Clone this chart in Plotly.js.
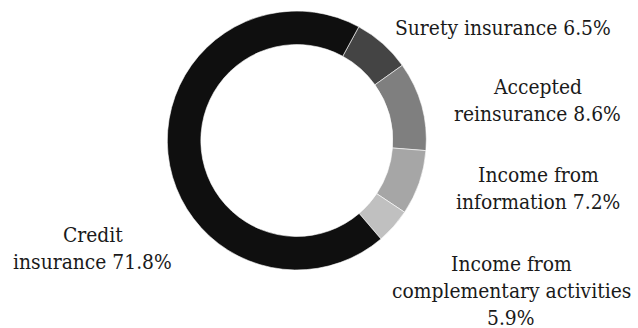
<!DOCTYPE html>
<html>
<head>
<meta charset="utf-8">
<script src="https://cdn.plot.ly/plotly-3.0.1.min.js"></script>
<style>html,body{margin:0;padding:0;background:#fff;}#chart{width:638px;height:328px;}</style>
</head>
<body>
<div id="chart"></div>
<script>
// Categories in drawing order (clockwise from the upper right)
var categories = ["Surety insurance", "Accepted reinsurance", "Income from information", "Income from complementary activities", "Credit insurance"];
// Slice shares as drawn in the picture (percent of the ring)
var sliceShares = [7.2, 11.1, 8.1, 4.4, 69.2];
// Percentages printed in the labels
var labelPercents = ["6.5%", "8.6%", "7.2%", "5.9%", "71.8%"];
// Label lines (text as printed)
var labelLines = [
  ["Surety insurance 6.5%"],
  ["Accepted", "reinsurance 8.6%"],
  ["Income from", "information 7.2%"],
  ["Income from", "complementary activities", "5.9%"],
  ["Credit", "insurance 71.8%"]
];

// Styling / layout (not data)
var sliceColors = ["#444444", "#7f7f7f", "#a6a6a6", "#c0c0c0", "#0f0f0f"];
var labelAnchorPx = [[503, 28], [537.5, 87], [538, 175], [511, 264], [92.5, 235]]; // centre x, first line centre y
var lineStepPx = 27;
var W = 638, H = 328;
var FONT = "DejaVu Serif Condensed";
var FONTSIZE = 20.8;

var annotations = [];
labelLines.forEach(function (lines, i) {
  lines.forEach(function (ln, j) {
    annotations.push({
      text: ln,
      xref: "paper", yref: "paper",
      x: labelAnchorPx[i][0] / W,
      y: 1 - (labelAnchorPx[i][1] + j * lineStepPx) / H,
      xanchor: "center", yanchor: "middle",
      showarrow: false,
      font: {family: FONT, size: FONTSIZE, color: "#1a1a1a"}
    });
  });
});

var cx = 296.8, cy = 140.5, r = 129.5;
var trace = {
  type: "pie",
  labels: categories,
  values: sliceShares,
  sort: false,
  direction: "clockwise",
  rotation: 28.6,
  hole: 0.741,
  textinfo: "none",
  hoverinfo: "label+percent",
  marker: {colors: sliceColors, line: {color: "#ffffff", width: 0.6}},
  domain: {x: [(cx - r) / W, (cx + r) / W], y: [1 - (cy + r) / H, 1 - (cy - r) / H]},
  showlegend: false
};

var layout = {
  width: W, height: H,
  margin: {l: 0, r: 0, t: 0, b: 0},
  paper_bgcolor: "#ffffff",
  showlegend: false,
  annotations: annotations,
  font: {family: FONT}
};

Plotly.newPlot("chart", [trace], layout, {displayModeBar: false, staticPlot: true});
</script>
</body>
</html>
